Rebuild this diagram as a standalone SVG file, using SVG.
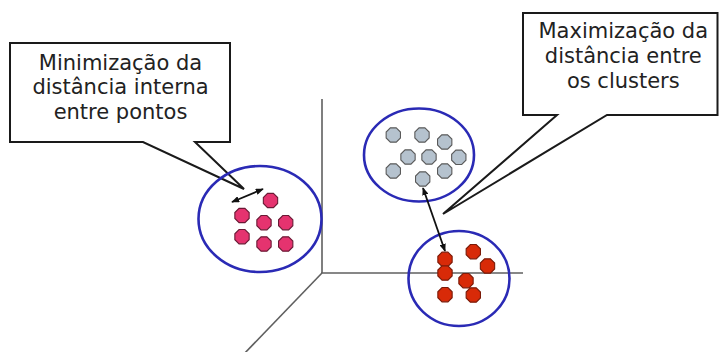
<svg xmlns="http://www.w3.org/2000/svg" width="719" height="352" viewBox="0 0 719 352">
  <style>
    .callout { fill: #ffffff; stroke: #1a1a1a; stroke-width: 2; stroke-linejoin: miter; }
    .label { font-family: "DejaVu Sans", Verdana, sans-serif; font-size: 21px; fill: #222222; text-anchor: middle; }
    .axis { stroke: #5f5f5f; stroke-width: 1.6; fill: none; }
    .cluster { fill: none; stroke: #2a2ab5; stroke-width: 2.6; }
    .link { stroke: #111111; stroke-width: 1.8; fill: none; marker-start: url(#head); marker-end: url(#head); }
    .pink { fill: #e5336f; stroke: #6a1a35; stroke-width: 1.1; }
    .gray { fill: #b5c2ce; stroke: #5a5a5a; stroke-width: 1.1; }
    .red { fill: #d82a08; stroke: #7a1a08; stroke-width: 1.1; }
  </style>
  <defs>
    <polygon id="dot" points="2.95,-7.15 7.15,-2.95 7.15,2.95 2.95,7.15 -2.95,7.15 -7.15,2.95 -7.15,-2.95 -2.95,-7.15"/>
    <marker id="head" viewBox="0 0 10 8" refX="9" refY="4" markerWidth="8" markerHeight="6.4" markerUnits="userSpaceOnUse" orient="auto-start-reverse">
      <path d="M0,0 L10,4 L0,8 Z" fill="#111111"/>
    </marker>
  </defs>

  <!-- coordinate axes -->
  <g id="axes">
    <line class="axis" x1="322" y1="99" x2="322" y2="273"/>
    <line class="axis" x1="321" y1="273" x2="523" y2="273"/>
    <line class="axis" x1="322" y1="273" x2="242" y2="356"/>
  </g>

  <!-- speech-bubble labels -->
  <g id="label-min">
    <path class="callout" d="M10,43 H230 V142 H195 L244,189 L143,142 H10 Z"/>
    <text class="label" x="120.5" y="70">Minimização da</text>
    <text class="label" x="120.5" y="94.3">distância interna</text>
    <text class="label" x="120.5" y="118.5">entre pontos</text>
  </g>
  <g id="label-max">
    <path class="callout" d="M523,13 H717.5 V115 H607 L443,214 L557,115 H523 Z"/>
    <text class="label" x="623.3" y="38.3">Maximização da</text>
    <text class="label" x="623.3" y="63.3">distância entre</text>
    <text class="label" x="623.3" y="88.3">os clusters</text>
  </g>

  <!-- pink cluster -->
  <g id="cluster-pink">
    <ellipse class="cluster" cx="260" cy="219" rx="61.5" ry="53"/>
    <use href="#dot" class="pink" x="270.5" y="200.5"/>
    <use href="#dot" class="pink" x="242" y="215.5"/>
    <use href="#dot" class="pink" x="264" y="222.7"/>
    <use href="#dot" class="pink" x="285.7" y="222.7"/>
    <use href="#dot" class="pink" x="242" y="236.7"/>
    <use href="#dot" class="pink" x="264" y="244"/>
    <use href="#dot" class="pink" x="285.7" y="244"/>
  </g>

  <!-- gray cluster -->
  <g id="cluster-gray">
    <ellipse class="cluster" cx="419" cy="155" rx="55" ry="46.5"/>
    <use href="#dot" class="gray" x="393.3" y="135"/>
    <use href="#dot" class="gray" x="422" y="135"/>
    <use href="#dot" class="gray" x="444.7" y="142"/>
    <use href="#dot" class="gray" x="408" y="157"/>
    <use href="#dot" class="gray" x="429" y="157"/>
    <use href="#dot" class="gray" x="458.8" y="157.3"/>
    <use href="#dot" class="gray" x="393.3" y="171"/>
    <use href="#dot" class="gray" x="444.7" y="171"/>
    <use href="#dot" class="gray" x="422.7" y="179"/>
  </g>

  <!-- red cluster -->
  <g id="cluster-red">
    <ellipse class="cluster" cx="459" cy="278.5" rx="50.5" ry="47.5"/>
    <use href="#dot" class="red" x="445" y="259.3"/>
    <use href="#dot" class="red" x="473.3" y="251.7"/>
    <use href="#dot" class="red" x="487.5" y="266"/>
    <use href="#dot" class="red" x="445" y="273"/>
    <use href="#dot" class="red" x="466" y="280.7"/>
    <use href="#dot" class="red" x="445" y="294.7"/>
    <use href="#dot" class="red" x="473.3" y="295"/>
  </g>

  <!-- distance arrows -->
  <g id="connectors">
    <line class="link" x1="232" y1="202" x2="263" y2="189"/>
    <line class="link" x1="423" y1="188" x2="445" y2="251"/>
  </g>
</svg>
